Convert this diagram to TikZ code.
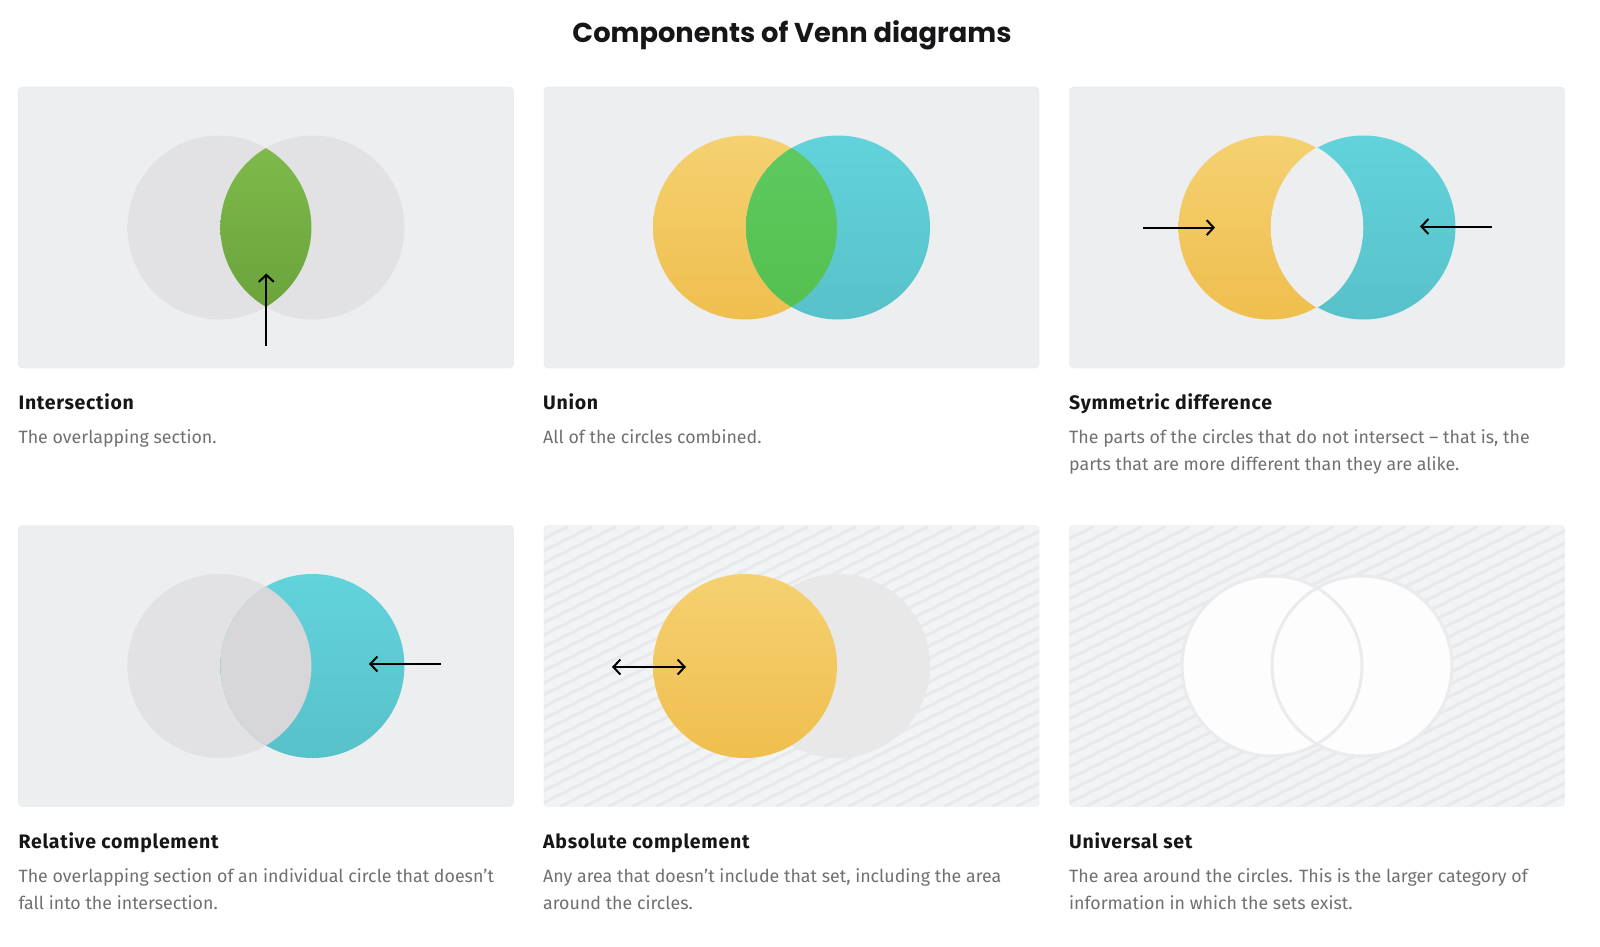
\documentclass[tikz,border=0pt]{standalone}
\usepackage{fontspec}
\setmainfont{Fira Sans}
\newfontfamily\headfont{Fira Sans}[LetterSpace=3.6]
\newfontfamily\titlefont{Poppins}
\definecolor{panelbg}{RGB}{237, 238, 240}
\definecolor{panelline}{RGB}{229, 230, 233}
\definecolor{hatchbg}{RGB}{242, 243, 245}
\definecolor{hatchline}{RGB}{232, 233, 236}
\definecolor{setgray}{RGB}{226, 226, 228}
\definecolor{lensgray}{RGB}{215, 215, 217}
\definecolor{yellowtop}{RGB}{245, 209, 113}
\definecolor{yellowbot}{RGB}{239, 190, 78}
\definecolor{cyantop}{RGB}{98, 211, 219}
\definecolor{cyanbot}{RGB}{88, 193, 201}
\definecolor{leaftop}{RGB}{128, 187, 76}
\definecolor{leafbot}{RGB}{104, 162, 58}
\definecolor{greentop}{RGB}{94, 201, 96}
\definecolor{greenbot}{RGB}{84, 192, 78}
\definecolor{ringgray}{RGB}{235, 235, 237}
\definecolor{headcol}{RGB}{22, 22, 24}
\definecolor{desccol}{RGB}{112, 112, 114}
\usetikzlibrary{arrows.meta, positioning, calc}

\begin{document}
\begin{tikzpicture}[x=1pt, y=-1pt,
  panel/.style={draw=panelline, fill=panelbg, rounded corners=4pt, minimum width=495pt, minimum height=281pt, inner sep=0pt},
  heading/.style={anchor=base west, inner sep=0pt, font=\headfont\bfseries\fontsize{19.5}{22}\selectfont, text=headcol},
  desc/.style={anchor=north west, inner sep=0pt, align=left, font=\fontsize{17.8}{27}\selectfont, text=desccol},
  arr/.style={line width=2pt, -{Straight Barb[length=7pt, width=15pt]}},
  hatch/.style={draw=hatchline, line width=3pt}
]
  \useasboundingbox[fill=white] (0,0) rectangle (1600,947);
  \node[font=\titlefont\bfseries\fontsize{27.3}{32}\selectfont, text=headcol] (title) at (792, 35) {Components of Venn diagrams};

  % panels
  \node[panel] (inter) at (265.9, 227.5) {};
  \node[panel] (union) at (791.5, 227.5) {};
  \node[panel] (symdiff) at (1317, 227.5) {};
  \node[panel] (relcomp) at (265.9, 666) {};
  \node[panel, fill=hatchbg] (abscomp) at (791.5, 666) {};
  \node[panel, fill=hatchbg] (univ) at (1317, 666) {};
  \foreach \p in {abscomp, univ} {
    \begin{scope}
      \clip[rounded corners=4pt] (\p.south west) rectangle (\p.north east);
      \foreach \k in {0,...,46}
        \draw[hatch] ($(\p.south west)+(\k*24-560,0)$) -- ++(560,-280);
    \end{scope}
  }

  % intersection
  \coordinate (interA) at ($(inter)+(-46.5,0)$);
  \coordinate (interB) at ($(inter)+(46.5,0)$);
  \fill[setgray] (interA) circle (92) (interB) circle (92);
  \begin{scope}
    \clip (interA) circle (92);
    \shade[top color=leaftop, bottom color=leafbot] (interB) circle (92);
  \end{scope}
  \coordinate (interTail) at ($(inter)+(0.4,118.5)$);
  \coordinate (interTip) at ($(inter)+(0.4,46)$);
  \draw[arr] (interTail) -- (interTip);

  % union
  \coordinate (unionA) at ($(union)+(-46.5,0)$);
  \coordinate (unionB) at ($(union)+(46.5,0)$);
  \shade[top color=yellowtop, bottom color=yellowbot] (unionA) circle (92);
  \shade[top color=cyantop, bottom color=cyanbot] (unionB) circle (92);
  \begin{scope}
    \clip (unionA) circle (92);
    \shade[top color=greentop, bottom color=greenbot] (unionB) circle (92);
  \end{scope}

  % symmetric difference
  \coordinate (symA) at ($(symdiff)+(-46.5,0)$);
  \coordinate (symB) at ($(symdiff)+(46.5,0)$);
  \shade[top color=yellowtop, bottom color=yellowbot] (symA) circle (92);
  \shade[top color=cyantop, bottom color=cyanbot] (symB) circle (92);
  \begin{scope}
    \clip (symA) circle (92);
    \filldraw[panelbg, line width=1.5pt] (symB) circle (92);
  \end{scope}
  \begin{scope}
    \clip (symB) circle (92);
    \draw[panelbg, line width=1.5pt] (symA) circle (92);
  \end{scope}
  \coordinate (symLTail) at (1143, 227.6);
  \coordinate (symLTip) at (1215, 227.6);
  \coordinate (symRTail) at (1492, 226.5);
  \coordinate (symRTip) at (1420, 226.5);
  \draw[arr] (symLTail) -- (symLTip);
  \draw[arr] (symRTail) -- (symRTip);

  % relative complement
  \coordinate (relA) at ($(relcomp)+(-46.5,0)$);
  \coordinate (relB) at ($(relcomp)+(46.5,0)$);
  \fill[setgray] (relA) circle (92);
  \shade[top color=cyantop, bottom color=cyanbot] (relB) circle (92);
  \begin{scope}
    \clip (relA) circle (92);
    \fill[lensgray] (relB) circle (92);
  \end{scope}
  \coordinate (relTail) at (441, 664);
  \coordinate (relTip) at (369, 664);
  \draw[arr] (relTail) -- (relTip);

  % absolute complement
  \coordinate (absA) at ($(abscomp)+(-46.5,0)$);
  \coordinate (absB) at ($(abscomp)+(46.5,0)$);
  \fill[setgray!80!white] (absB) circle (92);
  \shade[top color=yellowtop, bottom color=yellowbot] (absA) circle (92);
  \coordinate (absL) at (612, 667);
  \coordinate (absR) at (686, 667);
  \draw[arr, {Straight Barb[length=7pt, width=15pt]}-{Straight Barb[length=7pt, width=15pt]}] (absL) -- (absR);

  % universal set
  \coordinate (univA) at ($(univ)+(-45,0)$);
  \coordinate (univB) at ($(univ)+(45,0)$);
  \fill[white!85!hatchbg] (univA) circle (90) (univB) circle (90);
  \draw[ringgray, line width=3pt] (univA) circle (90) (univB) circle (90);

  % captions
  \node[heading] (interHead) at (18.4, 409) {Intersection};
  \node[desc] (interText) at (18.4, 429.5) {The overlapping section.};
  \node[heading] (unionHead) at (543, 409) {Union};
  \node[desc] (unionText) at (543, 429.5) {All of the circles combined.};
  \node[heading] (symHead) at (1069, 409) {Symmetric difference};
  \node[desc] (symText) at (1069, 429.5) {The parts of the circles that do not intersect – that is, the\\parts that are more different than they are alike.};
  \node[heading] (relHead) at (18.4, 848) {Relative complement};
  \node[desc] (relText) at (18.4, 868.5) {The overlapping section of an individual circle that doesn’t\\fall into the intersection.};
  \node[heading] (absHead) at (543, 848) {Absolute complement};
  \node[desc] (absText) at (543, 868.5) {Any area that doesn’t include that set, including the area\\around the circles.};
  \node[heading] (univHead) at (1069, 848) {Universal set};
  \node[desc] (univText) at (1069, 868.5) {The area around the circles. This is the larger category of\\information in which the sets exist.};
\end{tikzpicture}
\end{document}
